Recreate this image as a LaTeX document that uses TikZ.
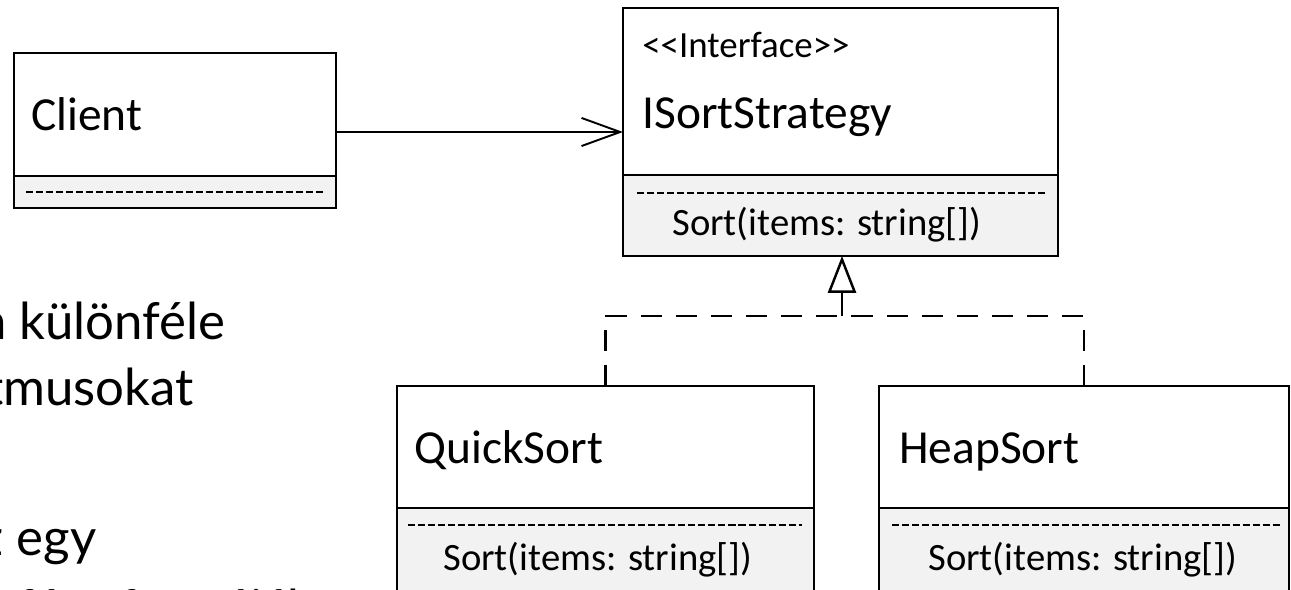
\documentclass[tikz,border=0pt]{standalone}
\usepackage{fontspec}
\setmainfont{Carlito}
\newfontfamily\bodyfont{Lato}
\usetikzlibrary{arrows.meta}
\definecolor{opsgray}{HTML}{F2F2F2}
\begin{document}
\begin{tikzpicture}[x=0.02cm,y=-0.02cm,
  classtop/.style={draw, line width=1.5pt, fill=white, anchor=north west, inner sep=0pt, outer sep=0pt},
  classops/.style={draw, line width=1.5pt, fill=opsgray, anchor=north west, inner sep=0pt, outer sep=0pt},
  sepline/.style={line width=1.1pt, dash pattern=on 4pt off 1.7pt},
  nametext/.style={anchor=base west, inner sep=0pt, font=\fontsize{27}{32}\selectfont},
  stereo/.style={anchor=base west, inner sep=0pt, font=\fontsize{21}{25}\selectfont},
  optext/.style={anchor=base west, inner sep=0pt, font=\fontsize{22}{26}\selectfont},
  bodyline/.style={anchor=base east, inner sep=0pt, font=\bodyfont\fontsize{29}{35}\selectfont},
  assoc/.style={line width=1.1pt, -{Straight Barb[length=22pt,width=16pt,line width=1.1pt]}},
  realize/.style={line width=1.4pt, dash pattern=on 12pt off 8pt},
  gen/.style={line width=1.4pt, -{Triangle[open,length=21pt,width=16pt,line width=1.4pt]}}
]
\useasboundingbox (0,0) rectangle (1291,589);
\clip (0,0) rectangle (1291,589);
\fill[white] (0,0) rectangle (1291,589);

% left text (cut off at the left edge)
\node[bodyline] (t1) at (226,339) {ben különféle};
\node[bodyline] (t2) at (194,405) {algoritmusokat};
\node[bodyline] (t4) at (97,555) {az egy};
\node[bodyline, anchor=base west] (t5) at (-88,626) {interfész formájában};

% Client
\node[classtop, minimum width=6.44cm, minimum height=2.46cm] (client) at (14,53) {};
\node[classops, minimum width=6.44cm, minimum height=0.64cm] (clientops) at (client.south west) {};
\draw[sepline] (26,192) -- (325,192);
\node[nametext] (clientname) at (31,130) {Client};

% ISortStrategy
\node[classtop, minimum width=8.7cm, minimum height=3.34cm] (iss) at (623,8) {};
\node[classops, minimum width=8.7cm, minimum height=1.62cm] (issops) at (iss.south west) {};
\draw[sepline] (637,193) -- (1047,193);
\node[stereo] (issstereo) at (642,57) {<\kern0pt<Interface>\kern0pt>};
\node[nametext] (issname) at (642,128) {ISortStrategy};
\node[optext] (issop) at (672,235) {Sort(items: string[])};

% QuickSort
\node[classtop, minimum width=8.34cm, minimum height=2.44cm] (qs) at (397,386) {};
\node[classops, minimum width=8.34cm, minimum height=1.84cm] (qsops) at (qs.south west) {};
\draw[sepline] (408,525) -- (802,525);
\node[nametext] (qsname) at (414,463) {QuickSort};
\node[optext] (qsop) at (443,570) {Sort(items: string[])};

% HeapSort
\node[classtop, minimum width=8.2cm, minimum height=2.44cm] (hs) at (879,386) {};
\node[classops, minimum width=8.2cm, minimum height=1.84cm] (hsops) at (hs.south west) {};
\draw[sepline] (892,525) -- (1280,525);
\node[nametext] (hsname) at (899,463) {HeapSort};
\node[optext] (hsop) at (928,570) {Sort(items: string[])};

% association
\draw[assoc] ([yshift=-0.35cm]client.east) -- ([yshift=-0.35cm]client.east -| iss.west);

% realization
\coordinate (j) at (842,316);
\draw[gen] (j) -- (j |- issops.south);
\draw[realize] (qs.north |- j) -- (hs.north |- j);
\draw[realize] (qs.north) -- (qs.north |- j);
\draw[realize] (hs.north) -- (hs.north |- j);
\end{tikzpicture}
\end{document}
